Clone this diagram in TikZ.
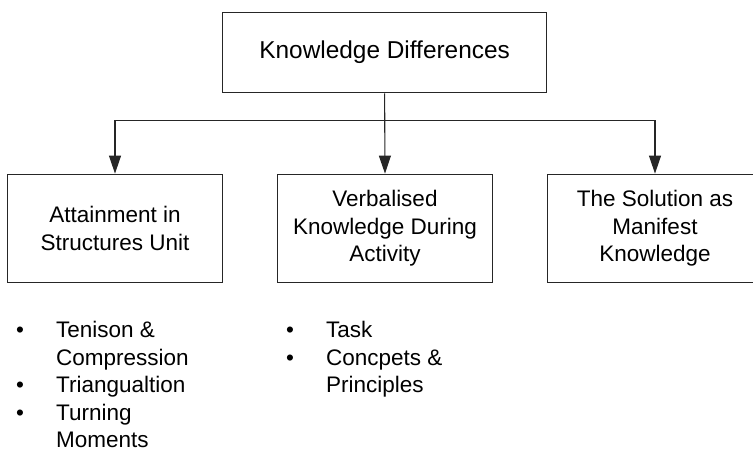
\documentclass[tikz,border=0pt]{standalone}
\usepackage{fontspec}
\setmainfont{Liberation Sans}
\usetikzlibrary{arrows.meta, positioning}
\tikzset{
  kbox/.style={draw=black!85, line width=1.1pt, minimum width=215pt, minimum height=108.5pt,
    inner sep=0pt, align=center, font=\fontsize{22.5}{27.5}\selectfont},
  kline/.style={draw=black!85, line width=1.1pt, -{Triangle[length=18pt,width=12pt]}},
  klist/.style={anchor=north west, inner sep=0pt, font=\fontsize{22.5}{27.5}\selectfont}
}

\begin{document}
\begin{tikzpicture}[x=1pt,y=-1pt]
                    \useasboundingbox (0,0) rectangle (753,449);
                    \clip (0,0) rectangle (753,449);
                    \node[kbox, minimum width=324pt, minimum height=80.5pt,
                      font=\fontsize{24.4}{28}\selectfont] (diff) at (384.6,52.5) {Knowledge Differences};
                    \node[kbox] (attain) at (115,228.4) {Attainment in\\Structures Unit};
                    \node[kbox] (verbal) at (385,228.4) {Verbalised\\Knowledge During\\Activity};
                    \node[kbox] (manifest) at (655,228.4) {The Solution as\\Manifest\\Knowledge};
                    \coordinate[below=27.5pt of diff.south] (split);
                    \draw[kline] (diff.south) -- (verbal.north);
                    \draw[kline] (split) -| (attain.north);
                    \draw[kline] (split) -| (manifest.north);
                    \node[klist] (attainlist) at (16,318.3) {\begin{tabular}{@{}p{40pt}@{}l@{}}
                      \textbullet & Tenison \&\\
                                  & Compression\\
                      \textbullet & Triangualtion\\
                      \textbullet & Turning\\
                                  & Moments
                    \end{tabular}};
                    \node[klist] (verballist) at (286,318.3) {\begin{tabular}{@{}p{40pt}@{}l@{}}
                      \textbullet & Task\\
                      \textbullet & Concpets \&\\
                                  & Principles
                    \end{tabular}};
                  \end{tikzpicture}
\end{document}
